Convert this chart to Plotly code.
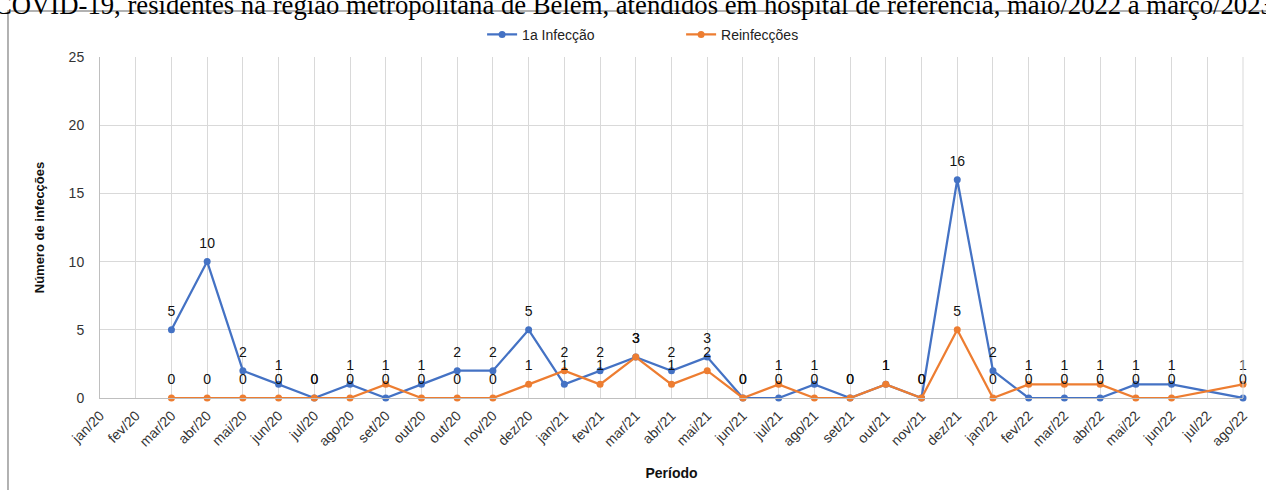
import plotly.graph_objects as go

categories = ["jan/20", "fev/20", "mar/20", "abr/20", "mai/20", "jun/20", "jul/20", "ago/20",
              "set/20", "out/20", "out/20", "nov/20", "dez/20", "jan/21", "fev/21", "mar/21",
              "abr/21", "mai/21", "jun/21", "jul/21", "ago/21", "set/21", "out/21", "nov/21",
              "dez/21", "jan/22", "fev/22", "mar/22", "abr/22", "mai/22", "jun/22", "jul/22", "ago/22"]
primeira = [None, None, 5, 10, 2, 1, 0, 1, 0, 1, 2, 2, 5, 1, 2, 3, 2, 3, 0, 0, 1, 0, 1, 0,
            16, 2, 0, 0, 0, 1, 1, None, 0]
reinfec = [None, None, 0, 0, 0, 0, 0, 0, 1, 0, 0, 0, 1, 2, 1, 3, 1, 2, 0, 1, 0, 0, 1, 0,
           5, 0, 1, 1, 1, 0, 0, None, 1]
y_ticks = [0, 5, 10, 15, 20, 25]

x_idx = list(range(len(categories)))
BLUE = "#4472C4"
ORANGE = "#ED7D31"
FONT = "Liberation Sans, Arial, sans-serif"

def lbl(v):
    return ["" if a is None else str(a) for a in v]

series = [("1a Infecção", primeira, BLUE), ("Reinfecções", reinfec, ORANGE)]

fig = go.Figure()
for name, vals, col in series:
    fig.add_trace(go.Scatter(
        x=x_idx, y=vals, name=name, mode="lines+markers",
        line=dict(color=col, width=2.25), marker=dict(color=col, size=7),
        connectgaps=True, cliponaxis=False,
    ))
for name, vals, col in series:
    fig.add_trace(go.Scatter(
        x=x_idx, y=vals, name=name, mode="markers+text", showlegend=False,
        marker=dict(color=col, size=15, opacity=0), hoverinfo="skip",
        text=lbl(vals), textposition="top center",
        textfont=dict(family=FONT, size=14, color="#111111"),
        cliponaxis=False,
    ))

fig.update_layout(
    width=1266, height=490,
    margin=dict(l=100, r=23, t=57, b=92, autoexpand=False),
    paper_bgcolor="white", plot_bgcolor="white",
    font=dict(family=FONT, size=13, color="#333333"),
    showlegend=True,
    legend=dict(orientation="h", x=0.3343, xanchor="left", y=1.065, yanchor="middle",
                entrywidth=154, entrywidthmode="pixels",
                font=dict(family=FONT, size=14, color="#222222"), bgcolor="rgba(0,0,0,0)"),
    xaxis=dict(
        range=[0, 32], tickmode="array", tickvals=x_idx, ticktext=categories,
        tickangle=-45, showgrid=True, gridcolor="#d9d9d9", gridwidth=1,
        showline=True, linecolor="#bfbfbf", linewidth=1, zeroline=False, automargin=False,
        ticks="outside", ticklen=3, tickcolor="rgba(0,0,0,0)",
        tickfont=dict(family=FONT, size=14, color="#333333"),
        title=dict(text="<b>Período</b>", font=dict(family=FONT, size=14, color="#111111"), standoff=19),
    ),
    yaxis=dict(
        range=[0, 25], tickmode="array", tickvals=y_ticks,
        showgrid=True, gridcolor="#d9d9d9", gridwidth=1,
        showline=True, linecolor="#bfbfbf", linewidth=1, zeroline=False, automargin=False,
        ticks="outside", ticklen=12, tickcolor="rgba(0,0,0,0)",
        tickfont=dict(family=FONT, size=14, color="#333333"),
        title=dict(text="<b>Número de infecções</b>", font=dict(family=FONT, size=13, color="#111111"), standoff=21),
    ),
)

# right edge gridline
fig.add_shape(type="line", xref="paper", yref="paper", x0=1, x1=1, y0=0, y1=1,
              line=dict(color="#d9d9d9", width=1))
# outer frame (left + top)
fig.add_shape(type="rect", xref="paper", yref="paper", x0=-0.0805, x1=1.2, y0=-0.6, y1=1.135,
              line=dict(color="#999999", width=1.5), fillcolor="rgba(0,0,0,0)", layer="below")

fig.add_annotation(
    text="COVID-19, residentes na região metropolitana de Belém, atendidos em hospital de referência, maio/2022 a março/2023",
    xref="paper", yref="paper", x=0.467, y=1.102, xanchor="center", yanchor="bottom",
    showarrow=False, font=dict(family="Liberation Serif, Times New Roman, serif", size=26.7, color="#000000"),
)

fig.write_html("out.html", config={"displayModeBar": False},
               post_script="document.body.style.margin='0';document.body.style.padding='0';")
